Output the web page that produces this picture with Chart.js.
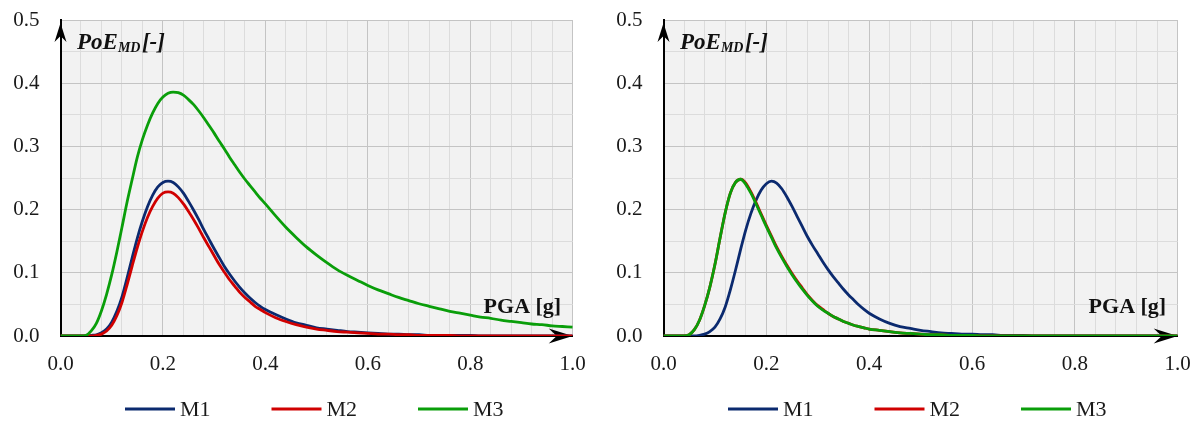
<!DOCTYPE html>
<html>
<head>
<meta charset="utf-8">
<script src="https://cdn.jsdelivr.net/npm/chart.js@4.4.1/dist/chart.umd.min.js"></script>
<style>
  html, body { margin: 0; padding: 0; background: #ffffff; }
  #wrap { position: relative; width: 1201px; height: 421px; overflow: hidden; }
  #leftChart { position: absolute; left: 0; top: 0; }
  #rightChart { position: absolute; left: 600px; top: 0; }
</style>
</head>
<body>
<div id="wrap">
  <canvas id="leftChart" width="600" height="421"></canvas>
  <canvas id="rightChart" width="601" height="421"></canvas>
</div>
<script>
// PGA sampling points [g]
const pga = [
  0.00, 0.01, 0.02, 0.03, 0.04, 0.05, 0.06, 0.07, 0.08, 0.09,
  0.10, 0.11, 0.12, 0.13, 0.14, 0.15, 0.16, 0.17, 0.18, 0.19,
  0.20, 0.21, 0.22, 0.23, 0.24, 0.25, 0.26, 0.27, 0.28, 0.29,
  0.30, 0.31, 0.32, 0.33, 0.34, 0.35, 0.36, 0.37, 0.38, 0.39,
  0.40, 0.42, 0.44, 0.46, 0.48, 0.50, 0.52, 0.54, 0.56, 0.58,
  0.60, 0.62, 0.64, 0.66, 0.68, 0.70, 0.72, 0.74, 0.76, 0.78,
  0.80, 0.82, 0.84, 0.86, 0.88, 0.90, 0.92, 0.94, 0.96, 0.98, 1.00
];

// Left panel: PoE_MD for models M1, M2, M3
const leftM1 = [
  0, 0, 0, 0, 0, 0, 0.001, 0.002, 0.005, 0.011,
  0.022, 0.039, 0.062, 0.092, 0.124, 0.155, 0.182, 0.205, 0.223, 0.236,
  0.243, 0.245, 0.243, 0.236, 0.226, 0.213, 0.199, 0.184, 0.168, 0.153,
  0.138, 0.124, 0.110, 0.098, 0.087, 0.077, 0.068, 0.060, 0.053, 0.047,
  0.042, 0.034, 0.027, 0.021, 0.017, 0.013, 0.011, 0.009, 0.007, 0.006,
  0.005, 0.004, 0.003, 0.003, 0.002, 0.002, 0.001, 0.001, 0.001, 0.001,
  0.001, 0, 0, 0, 0, 0, 0, 0, 0, 0, 0
];
const leftM2 = [
  0, 0, 0, 0, 0, 0, 0, 0.001, 0.003, 0.008,
  0.017, 0.032, 0.053, 0.081, 0.111, 0.140, 0.166, 0.188, 0.205, 0.218,
  0.226, 0.228, 0.226, 0.219, 0.209, 0.197, 0.184, 0.170, 0.155, 0.141,
  0.127, 0.113, 0.101, 0.089, 0.079, 0.069, 0.061, 0.054, 0.047, 0.042,
  0.037, 0.029, 0.023, 0.018, 0.014, 0.011, 0.009, 0.007, 0.006, 0.005,
  0.004, 0.003, 0.003, 0.002, 0.002, 0.001, 0.001, 0.001, 0.001, 0,
  0, 0, 0, 0, 0, 0, 0, 0, 0, 0, 0
];
const leftM3 = [
  0, 0, 0, 0, 0, 0.001, 0.008, 0.020, 0.040, 0.066,
  0.097, 0.133, 0.172, 0.212, 0.248, 0.283, 0.311, 0.334, 0.353, 0.368,
  0.378, 0.384, 0.386, 0.385, 0.381, 0.374, 0.366, 0.356, 0.345, 0.333,
  0.321, 0.308, 0.296, 0.283, 0.271, 0.259, 0.248, 0.238, 0.228, 0.218,
  0.209, 0.190, 0.172, 0.156, 0.141, 0.128, 0.116, 0.105, 0.096, 0.088,
  0.080, 0.073, 0.067, 0.061, 0.056, 0.051, 0.047, 0.043, 0.039, 0.036,
  0.033, 0.030, 0.028, 0.025, 0.023, 0.021, 0.019, 0.018, 0.016, 0.015, 0.014
];

// Right panel: PoE_MD for models M1, M2, M3
const rightM1 = [
  0, 0, 0, 0, 0, 0, 0, 0.001, 0.003, 0.007,
  0.014, 0.027, 0.046, 0.073, 0.104, 0.137, 0.168, 0.194, 0.215, 0.231,
  0.241, 0.245, 0.242, 0.233, 0.220, 0.205, 0.189, 0.173, 0.157, 0.143,
  0.130, 0.117, 0.105, 0.094, 0.084, 0.074, 0.065, 0.057, 0.049, 0.042,
  0.036, 0.027, 0.020, 0.015, 0.012, 0.009, 0.007, 0.005, 0.004, 0.003,
  0.003, 0.002, 0.002, 0.001, 0.001, 0.001, 0, 0, 0, 0,
  0, 0, 0, 0, 0, 0, 0, 0, 0, 0, 0
];
const rightM2 = [
  0, 0, 0, 0, 0, 0.002, 0.010, 0.025, 0.048, 0.077,
  0.113, 0.155, 0.195, 0.226, 0.243, 0.248, 0.242, 0.228, 0.211, 0.193,
  0.175, 0.158, 0.141, 0.126, 0.112, 0.099, 0.087, 0.076, 0.065, 0.056,
  0.048, 0.042, 0.036, 0.031, 0.027, 0.023, 0.020, 0.017, 0.015, 0.013,
  0.011, 0.009, 0.007, 0.005, 0.004, 0.003, 0.002, 0.002, 0.001, 0.001,
  0.001, 0, 0, 0, 0, 0, 0, 0, 0, 0,
  0, 0, 0, 0, 0, 0, 0, 0, 0, 0, 0
];
const rightM3 = [
  0, 0, 0, 0, 0, 0.002, 0.010, 0.025, 0.048, 0.077,
  0.113, 0.155, 0.195, 0.226, 0.243, 0.248, 0.240, 0.226, 0.209, 0.191,
  0.173, 0.156, 0.139, 0.124, 0.110, 0.097, 0.085, 0.074, 0.064, 0.055,
  0.047, 0.041, 0.036, 0.031, 0.027, 0.023, 0.020, 0.017, 0.015, 0.013,
  0.011, 0.009, 0.007, 0.005, 0.004, 0.003, 0.002, 0.002, 0.001, 0.001,
  0.001, 0, 0, 0, 0, 0, 0, 0, 0, 0,
  0, 0, 0, 0, 0, 0, 0, 0, 0, 0, 0
];

const seriesNames = ['M1', 'M2', 'M3'];
const seriesColors = ['#0b2a6f', '#d00000', '#0a9e0a'];
const xTickLabels = ['0.0', '0.2', '0.4', '0.6', '0.8', '1.0'];
const yTickLabels = ['0.0', '0.1', '0.2', '0.3', '0.4', '0.5'];
const yTitleParts = ['PoE', 'MD', '[-]'];
const xTitle = 'PGA [g]';

const SERIF = "'Liberation Serif', 'Times New Roman', serif";

function near(v, target) { return Math.abs(v - target) < 1e-6; }
function labelFor(list, v) {
  const hit = list.find(t => near(parseFloat(t), v));
  return hit === undefined ? '' : hit;
}
function isMajor(v, step) {
  const r = v / step;
  return Math.abs(r - Math.round(r)) < 1e-6;
}

function arrowHead(ctx, tipX, tipY, dirX, dirY, len, half, notch) {
  // dir is the unit vector the arrow points to
  const px = -dirY, py = dirX;
  const bx = tipX - dirX * len, by = tipY - dirY * len;
  const nx = tipX - dirX * notch, ny = tipY - dirY * notch;
  ctx.beginPath();
  ctx.moveTo(tipX, tipY);
  ctx.lineTo(bx + px * half, by + py * half);
  ctx.lineTo(nx, ny);
  ctx.lineTo(bx - px * half, by - py * half);
  ctx.closePath();
  ctx.fill();
}

const decorations = {
  id: 'decorations',
  beforeDraw(chart) {
    const { ctx, chartArea: a } = chart;
    ctx.save();
    ctx.fillStyle = '#f2f2f2';
    ctx.fillRect(a.left, a.top, a.right - a.left, a.bottom - a.top);
    ctx.restore();
  },
  beforeDatasetsDraw(chart) {
    const { ctx, chartArea: a } = chart;
    ctx.save();
    ctx.fillStyle = '#000000';
    arrowHead(ctx, a.right, a.bottom, 1, 0, 24, 7.5, 16);
    arrowHead(ctx, a.left, a.top + 3, 0, -1, 19, 6, 13);
    ctx.restore();
  },
  afterDatasetsDraw(chart) {
    const { ctx, chartArea: a } = chart;
    ctx.save();
    ctx.fillStyle = '#111111';
    ctx.textBaseline = 'alphabetic';
    // vertical axis title with subscript
    let x = a.left + 16.5;
    const base = a.top + 28.5;
    ctx.font = `italic bold 23px ${SERIF}`;
    ctx.textAlign = 'left';
    ctx.fillText(yTitleParts[0], x, base);
    x += ctx.measureText(yTitleParts[0]).width;
    ctx.font = `italic bold 14px ${SERIF}`;
    ctx.fillText(yTitleParts[1], x, base + 3.5);
    x += ctx.measureText(yTitleParts[1]).width + 1.5;
    ctx.font = `italic bold 23px ${SERIF}`;
    ctx.fillText(yTitleParts[2], x, base);
    // horizontal axis title
    ctx.font = `bold 22px ${SERIF}`;
    ctx.textAlign = 'right';
    ctx.fillText(xTitle, a.right - 11.5, a.bottom - 23);
    ctx.restore();
  },
  afterDraw(chart) {
    const { ctx, chartArea: a } = chart;
    const y = a.bottom + 73;
    ctx.save();
    ctx.font = `22px ${SERIF}`;
    ctx.textBaseline = 'middle';
    ctx.textAlign = 'left';
    chart.data.datasets.forEach((ds, i) => {
      const x0 = a.left + 64.5 + i * 146.5;
      ctx.strokeStyle = ds.borderColor;
      ctx.lineWidth = 2.8;
      ctx.beginPath();
      ctx.moveTo(x0, y);
      ctx.lineTo(x0 + 50, y);
      ctx.stroke();
      ctx.fillStyle = '#1a1a1a';
      ctx.fillText(ds.label, x0 + 55, y + 1);
    });
    ctx.restore();
  }
};

// frame: y-axis band width, and the space kept free on the right, top and bottom
function makeChart(canvasId, series, frame) {
  const datasets = series.map((vals, i) => ({
    label: seriesNames[i],
    data: pga.map((x, k) => ({ x: x, y: vals[k] })),
    borderColor: seriesColors[i],
    backgroundColor: seriesColors[i],
    borderWidth: 2.8,
    pointRadius: 0,
    fill: false,
    cubicInterpolationMode: 'monotone',
    order: series.length - 1 - i
  }));
  const tickFont = { family: SERIF, size: 21 };
  return new Chart(document.getElementById(canvasId), {
    type: 'line',
    data: { datasets },
    options: {
      responsive: false,
      animation: false,
      events: [],
      layout: { padding: { left: 0, right: frame.right, top: frame.top, bottom: frame.bottom } },
      plugins: { legend: { display: false }, tooltip: { enabled: false } },
      scales: {
        x: {
          type: 'linear',
          min: 0,
          max: 1,
          afterFit(scale) {
            scale.height = 40;
            scale.paddingLeft = 0;
            scale.paddingRight = 0;
          },
          ticks: {
            stepSize: 0.04,
            autoSkip: false,
            maxRotation: 0,
            padding: 16,
            color: '#1a1a1a',
            font: tickFont,
            callback: v => labelFor(xTickLabels, v)
          },
          grid: {
            drawTicks: false,
            lineWidth: 1,
            color: c => isMajor(c.tick.value, 0.2) ? '#c4c4c4' : '#dcdcdc'
          },
          border: { color: '#000000', width: 2 }
        },
        y: {
          min: 0,
          max: 0.5,
          afterFit(scale) {
            scale.width = frame.axis;
            scale.paddingTop = 0;
            scale.paddingBottom = 0;
          },
          ticks: {
            stepSize: 0.05,
            autoSkip: false,
            padding: 21,
            color: '#1a1a1a',
            font: tickFont,
            callback: v => labelFor(yTickLabels, v)
          },
          grid: {
            drawTicks: false,
            lineWidth: 1,
            color: c => isMajor(c.tick.value, 0.1) ? '#c4c4c4' : '#dcdcdc'
          },
          border: { color: '#000000', width: 2 }
        }
      }
    },
    plugins: [decorations]
  });
}

makeChart('leftChart', [leftM1, leftM2, leftM3], { axis: 60.5, right: 27.3, top: 20, bottom: 45 });
makeChart('rightChart', [rightM1, rightM2, rightM3], { axis: 63.5, right: 23.3, top: 20, bottom: 45 });
</script>
</body>
</html>
